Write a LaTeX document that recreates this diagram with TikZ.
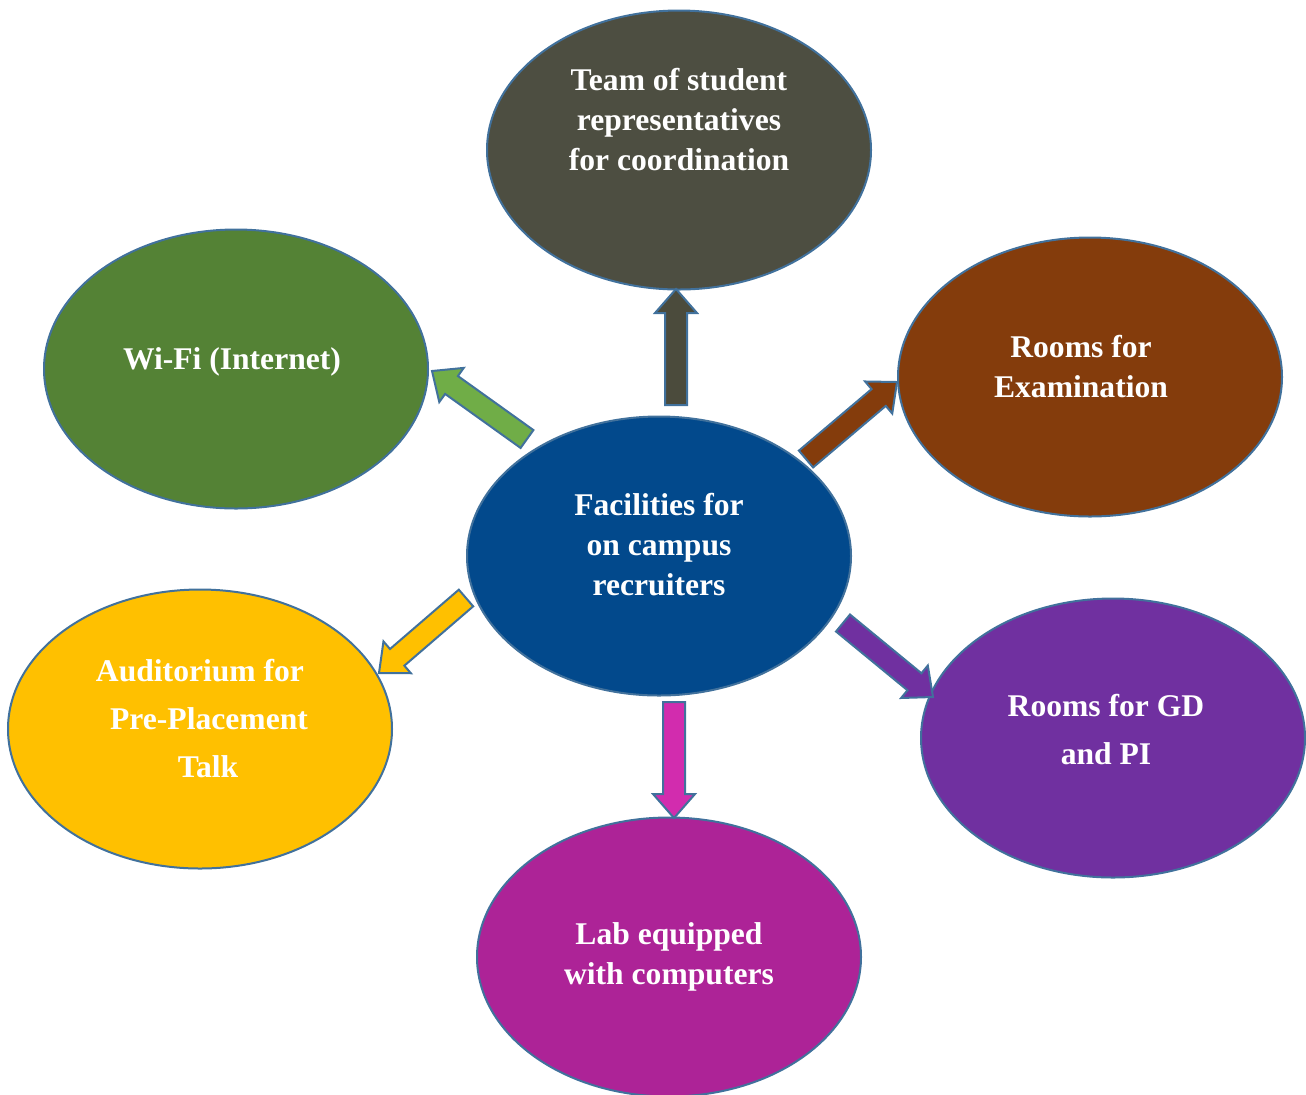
\documentclass[tikz,border=0pt]{standalone}
\usepackage{fontspec}
\setmainfont{Liberation Serif}
\usetikzlibrary{shapes.geometric,calc}

\definecolor{rim}{HTML}{41719C}
\definecolor{teamfill}{HTML}{4D4E41}
\definecolor{wififill}{HTML}{548235}
\definecolor{examfill}{HTML}{843C0C}
\definecolor{hubfill}{HTML}{02498C}
\definecolor{auditfill}{HTML}{FFC000}
\definecolor{gdpifill}{HTML}{7030A0}
\definecolor{labfill}{HTML}{AD2397}
\definecolor{uparr}{HTML}{4B4B3C}
\definecolor{wifiarr}{HTML}{70AD47}
\definecolor{labarr}{HTML}{D22CAE}

\tikzset{
  bubble/.style={ellipse, draw=rim, line width=1pt, minimum width=192pt,
    minimum height=139.5pt, inner sep=0pt, text=white,
    font=\bfseries\fontsize{15.8}{20}\selectfont},
}

% text block raised by #2 (and moved sideways by half of #1) inside a bubble
\newcommand{\bubbletext}[3][0pt]{\raisebox{#2}[0pt][0pt]{\hspace*{#1}\begin{tabular}{@{}c@{}}#3\end{tabular}}}

% outlined block arrow from #1 to #2
\newcommand{\blockarrow}[3]{%
  \coordinate (headbase) at ($(#2)!12pt!(#1)$);
  \filldraw[fill=#3, draw=rim, line width=1pt, line join=miter]
    ($(#1)!5.5pt!90:(#2)$) -- ($(headbase)!5.5pt!-90:(#1)$)
    -- ($(headbase)!10.5pt!-90:(#1)$) -- (#2)
    -- ($(headbase)!10.5pt!90:(#1)$) -- ($(headbase)!5.5pt!90:(#1)$)
    -- ($(#1)!5.5pt!-90:(#2)$) -- cycle;
}

\begin{document}
\begin{tikzpicture}[x=0.5pt, y=-0.5pt]
\useasboundingbox (0,0) rectangle (1306,1094);

\node[bubble, fill=teamfill] (team) at (679,150) {\bubbletext{10pt}{Team of student\\representatives\\for coordination}};
\node[bubble, fill=wififill] (wifi) at (236,369) {\bubbletext[-4pt]{0pt}{Wi-Fi (Internet)}};
\node[bubble, fill=examfill] (exam) at (1090,377) {\bubbletext[-9pt]{0pt}{Rooms for\\Examination}};
\node[bubble, fill=hubfill] (hub) at (659,556) {\bubbletext{0.5pt}{Facilities for\\on campus\\recruiters}};
\node[bubble, fill=auditfill] (audit) at (200,729) {\bubbletext{0pt}{Auditorium for\\[4pt]\hspace*{9pt}Pre-Placement\\[4pt]\hspace*{8pt}Talk}};
\node[bubble, fill=gdpifill] (gdpi) at (1113,738) {\bubbletext[-7pt]{-1pt}{Rooms for GD\\[4pt]and PI}};
\node[bubble, fill=labfill] (lab) at (669,957) {\bubbletext{-3.5pt}{Lab equipped\\with computers}};

\coordinate (upTail) at (676,405);
\coordinate (upTip) at (676,289);
\coordinate (wifiTail) at (527,439);
\coordinate (wifiTip) at (432,371);
\coordinate (examTail) at (806,459);
\coordinate (examTip) at (897,382);
\coordinate (auditTail) at (466,598);
\coordinate (auditTip) at (379,673);
\coordinate (gdpiTail) at (843,623);
\coordinate (gdpiTip) at (933,697);
\coordinate (labTail) at (674,702);
\coordinate (labTip) at (674,818);

\blockarrow{upTail}{upTip}{uparr}
\blockarrow{wifiTail}{wifiTip}{wifiarr}
\blockarrow{examTail}{examTip}{examfill}
\blockarrow{auditTail}{auditTip}{auditfill}
\blockarrow{gdpiTail}{gdpiTip}{gdpifill}
\blockarrow{labTail}{labTip}{labarr}
\end{tikzpicture}
\end{document}
